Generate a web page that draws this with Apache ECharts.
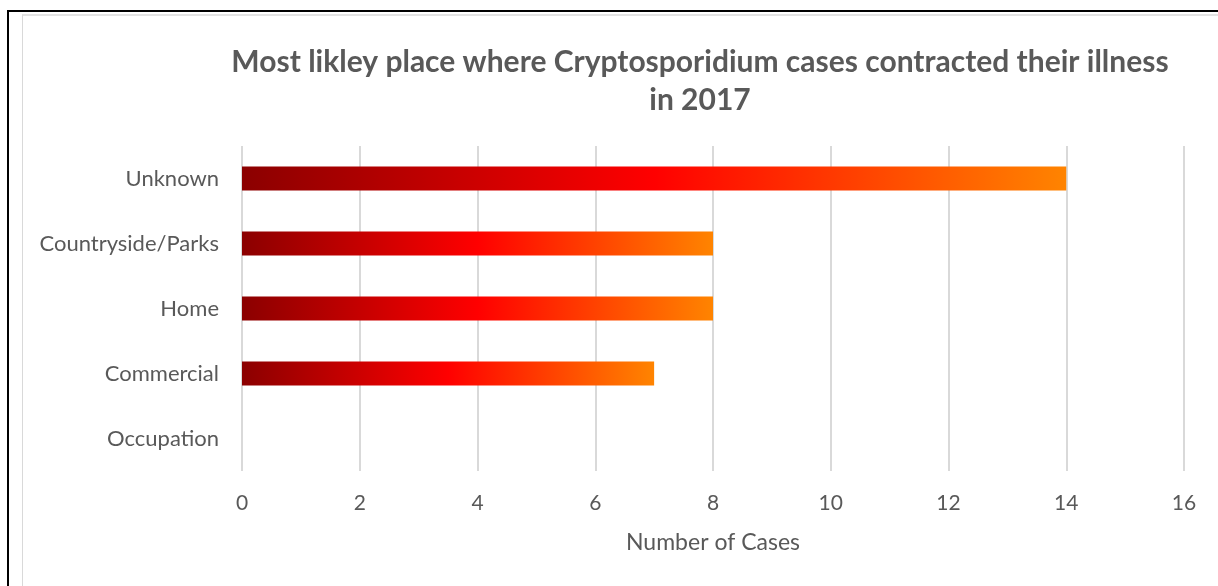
<!DOCTYPE html>
<html>
<head>
<meta charset="utf-8">
<script src="https://cdn.jsdelivr.net/npm/echarts@6/dist/echarts.min.js"></script>
<style>
  html, body { margin: 0; padding: 0; background: #ffffff; }
  #wrap { position: relative; width: 1218px; height: 586px; overflow: hidden; }
  #frame { position: absolute; left: 7px; top: 10px; width: 1300px; height: 700px;
           border-left: 2px solid #000; border-top: 2px solid #000; }
  #panel { position: absolute; left: 22px; top: 14px; width: 1300px; height: 700px;
           border-left: 1px solid #d9d9d9; border-top: 2px solid #e3e3e3; }
  #chart { position: absolute; left: 0; top: 0; width: 1218px; height: 586px; }
</style>
</head>
<body>
<div id="wrap">
  <div id="frame"></div>
  <div id="panel"></div>
  <div id="chart"></div>
</div>
<script>
// Places where cases most likely caught the illness, 2017
const categories = ['Unknown', 'Countryside/Parks', 'Home', 'Commercial', 'Occupation'];
const cases = [14, 8, 8, 7, 0];
const titleText = 'Most likley place where Cryptosporidium cases contracted their illness\nin 2017';
const axisTitle = 'Number of Cases';

const FONT = 'Lato, "Open Sans", sans-serif';
const GREY = '#595959';

const barGradient = new echarts.graphic.LinearGradient(0, 0, 1, 0, [
  { offset: 0, color: '#8b0000' },
  { offset: 0.5, color: '#ff0000' },
  { offset: 1, color: '#ff8400' }
]);

const chart = echarts.init(document.getElementById('chart'), null, { renderer: 'canvas' });
chart.setOption({
  animation: false,
  backgroundColor: 'transparent',
  title: {
    text: titleText,
    left: 695,
    textAlign: 'center',
    top: 38,
    textStyle: {
      fontFamily: FONT, fontSize: 30, fontWeight: 'bold', color: GREY, lineHeight: 38
    }
  },
  grid: { left: 242, right: 34, top: 146, bottom: 115, containLabel: false },
  xAxis: {
    type: 'value',
    min: 0, max: 16, interval: 2,
    name: axisTitle,
    nameLocation: 'middle',
    nameGap: 60,
    nameTextStyle: { fontFamily: FONT, fontSize: 23, color: GREY },
    axisLine: { show: false },
    axisTick: { show: false },
    axisLabel: { fontFamily: FONT, fontSize: 21, color: GREY, margin: 22 },
    splitLine: { show: true, lineStyle: { color: '#d9d9d9', width: 2 } }
  },
  yAxis: {
    type: 'category',
    data: categories,
    inverse: true,
    axisLine: { show: false },
    axisTick: { show: false },
    axisLabel: { fontFamily: FONT, fontSize: 22, color: GREY, margin: 23 },
    splitLine: { show: false }
  },
  series: [{
    type: 'bar',
    data: cases,
    barWidth: 24,
    itemStyle: { color: barGradient }
  }]
});
</script>
</body>
</html>
